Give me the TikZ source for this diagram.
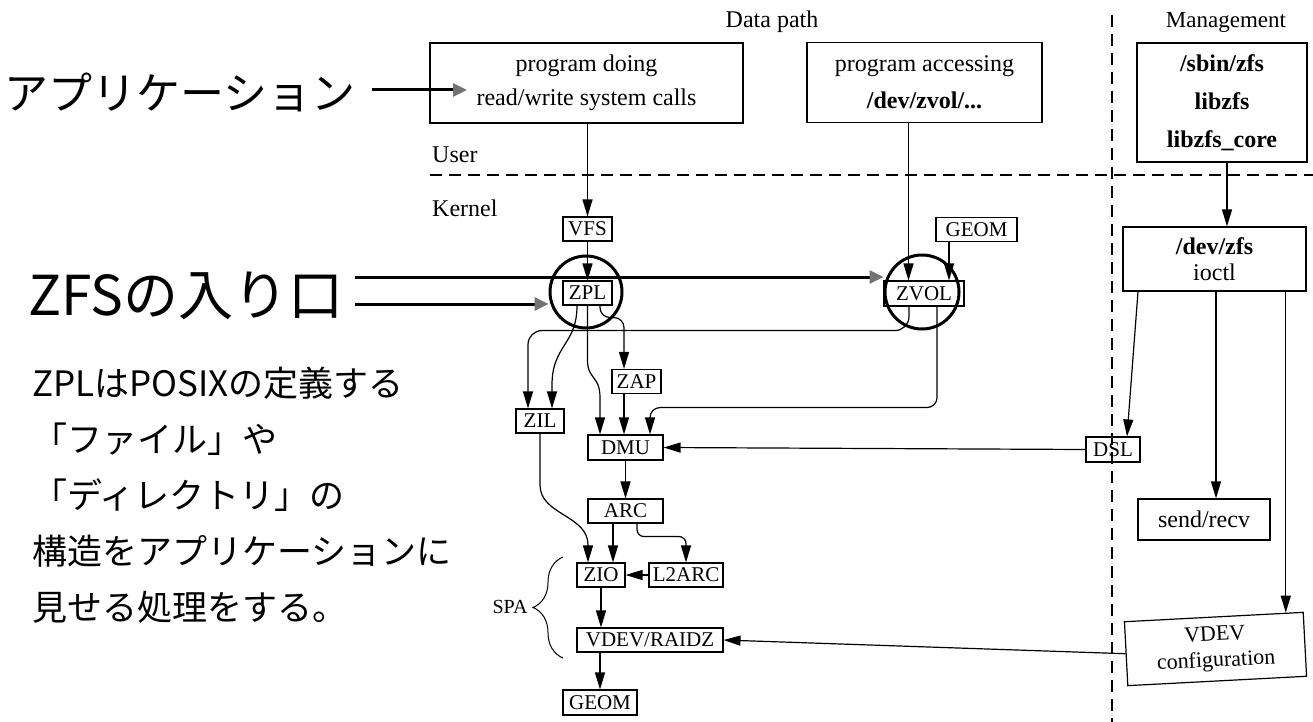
\documentclass[tikz,border=0pt]{standalone}
\usepackage{fontspec}
\setmainfont{Liberation Serif}
\newfontfamily\jp{Noto Sans CJK JP}
\usetikzlibrary{arrows.meta,calc,decorations.pathreplacing}
\begin{document}
\begin{tikzpicture}[x=1pt,y=-1pt,
  box/.style={draw,line width=1.2pt,inner sep=0pt,align=center,font=\fontsize{24}{34}\selectfont},
  sbox/.style={draw,line width=1.1pt,inner sep=0pt,minimum height=24pt,font=\fontsize{21}{21}\selectfont},
  arr/.style={line width=1.2pt,-{Triangle[length=17pt,width=10pt]}},
  annot/.style={line width=3pt,-{Triangle[length=14pt,width=13pt,color=black!55]}},
  ring/.style={draw,circle,line width=3pt,inner sep=0pt},
  lbl/.style={inner sep=0pt,font=\fontsize{24}{24}\selectfont},
  sep/.style={line width=1.1pt,dash pattern=on 12pt off 7pt},
]
\useasboundingbox (0,0) rectangle (1313,722);

% separators
\draw[sep] (430,175) -- (1313,175);
\draw[sep] (1112,15) -- (1112,722);

% labels
\node[lbl] (dp) at (772,22) {Data path};
\node[lbl,font=\fontsize{23}{23}\selectfont] (mg) at (1226,22) {Management};
\node[lbl,anchor=west] (user) at (432,155) {User};
\node[lbl,anchor=west] (kernel) at (432,208) {Kernel};

% user boxes
\node[box,minimum width=313pt,minimum height=80pt] (prog1) at (586.5,83) {program doing\\read/write system calls};
\node[box,minimum width=235pt,minimum height=80pt,font=\fontsize{24}{37}\selectfont] (prog2) at (924.5,82.5) {program accessing\\\textbf{/dev/zvol/...}};
\node[box,minimum width=170pt,minimum height=119pt,font=\fontsize{24}{38}\selectfont\bfseries] (mgmt) at (1222,102.5) {/sbin/zfs\\libzfs\\libzfs\_core};

% kernel boxes
\node[sbox,minimum width=49pt] (vfs) at (587.5,229) {VFS};
\node[sbox,minimum width=49pt] (zpl) at (587.5,293) {ZPL};
\node[sbox,minimum width=80pt,minimum height=25pt] (zvol) at (924,293.5) {ZVOL};
\node[sbox,minimum width=81pt] (geomA) at (976.5,229.5) {GEOM};
\node[sbox,minimum width=49pt] (zap) at (636.5,381.5) {ZAP};
\node[sbox,minimum width=48pt] (zil) at (540,421) {ZIL};
\node[sbox,minimum width=75pt,minimum height=25pt] (dmu) at (625.5,447.5) {DMU};
\node[sbox,minimum width=54pt,minimum height=25pt] (dsl) at (1113,449.5) {DSL};
\node[sbox,minimum width=75pt] (arc) at (625.5,511) {ARC};
\node[sbox,minimum width=48pt] (zio) at (601,575) {ZIO};
\node[sbox,minimum width=74pt] (l2arc) at (686,575) {L2ARC};
\node[sbox,minimum width=146pt] (vdev) at (650,640) {VDEV/RAIDZ};
\node[sbox,minimum width=74pt,minimum height=25pt] (geomB) at (600,702.5) {GEOM};

\node[box,minimum width=183pt,minimum height=64pt,font=\fontsize{24}{26}\selectfont] (devzfs) at (1214.5,259) {\textbf{/dev/zfs}\\ioctl};
\node[box,minimum width=132pt,minimum height=41pt] (sendrecv) at (1204,519.5) {send/recv};
\node[box,minimum width=179pt,minimum height=64pt,rotate=3,font=\fontsize{22}{26}\selectfont] (vdevcfg) at (1215.5,649) {VDEV\\configuration};

% SPA brace
\draw[line width=1pt,decorate,decoration={brace,amplitude=30pt,aspect=0.5}] (563,658) -- (563,557);
\node[lbl,font=\fontsize{20}{20}\selectfont] (spa) at (510,607) {SPA};

% connectors
\draw[arr] (prog1.south -| vfs.north) -- (vfs.north);
\draw[arr] (vfs.south) -- (zpl.north);
\draw[arr] ([xshift=-16pt]prog2.south) -- ([xshift=-16pt]prog2.south |- zvol.north);
\draw[arr] ([xshift=-27.5pt]geomA.south) -- ([xshift=-27.5pt]geomA.south |- zvol.north);
\draw[arr] ([xshift=5pt]mgmt.south) -- ([xshift=5pt]mgmt.south |- devzfs.north);
\draw[arr] ([xshift=-76.5pt]devzfs.south) -- ([xshift=14pt]dsl.north);
\draw[arr] ([xshift=1.5pt]devzfs.south) -- ([xshift=1.5pt]devzfs.south |- sendrecv.north);
\coordinate (cfgin) at ($(vdevcfg.north west)!0.9!(vdevcfg.north east)$);
\draw[arr] (devzfs.south -| cfgin) -- (cfgin);
\draw[arr] (dsl.west) -- (dmu.east);
\draw[arr] (vdevcfg.west) -- (vdev.east);

\draw[arr] ([xshift=-10.5pt]zpl.south) .. controls (577,345) and (552,345) .. (552,385) -- ([xshift=12pt]zil.north);
\draw[arr] (zpl.south) -- (587.5,360) .. controls (587.5,380) and (600,375) .. (600,398) -- ([xshift=-25.5pt]dmu.north);
\draw[arr,rounded corners=10pt] ([xshift=12.5pt]zpl.south) -- ++(0,12) -| ([xshift=-12.5pt]zap.north);
\draw[arr] ([xshift=-12.5pt]zap.south) -- ([xshift=-1.5pt]dmu.north);
\draw[arr,rounded corners=14pt] ([xshift=-15pt]zvol.south) -- ++(0,24) -| ([xshift=-12pt]zil.north);
\draw[arr,rounded corners=10pt] ([xshift=13pt]zvol.south) -- ++(0,101) -| ([xshift=24.5pt]dmu.north);
\draw[arr] (zil.south) -- (540,485) .. controls (540,515) and (588,515) .. (588,545) -- ([xshift=-13pt]zio.north);
\draw[arr] (dmu.south) -- (arc.north);
\draw[arr] ([xshift=-12.5pt]arc.south) -- ([xshift=12pt]zio.north);
\draw[arr,rounded corners=7pt] ([xshift=11.5pt]arc.south) -- ++(0,13) -| (l2arc.north);
\draw[arr] (l2arc.west) -- (zio.east);
\draw[arr] (zio.south) -- (zio.south |- vdev.north);
\draw[arr] (geomB.north |- vdev.south) -- (geomB.north);

% rings
\node[ring,minimum size=72pt] (cz) at (586,292) {};
\node[ring,minimum size=74pt] (cv) at (922,292) {};

% annotations
\node[anchor=west,inner sep=0pt,font=\jp\fontsize{44}{44}\selectfont] (app) at (4,92) {アプリケーション};
\coordinate (appA) at (372,90);
\coordinate (appB) at (467,90);
\draw[annot] (appA) -- (appB);

\node[anchor=west,inner sep=0pt,font=\jp\fontsize{55}{55}\selectfont] (zfs) at (28,296) {ZFSの入り口};
\coordinate (zfsA) at (355,277);
\coordinate (zfsB) at (355,304);
\draw[annot] (zfsA) -- (zfsA -| cv.west);
\draw[annot] (zfsB) -- (zfsB -| cz.west);

\node[anchor=west,inner sep=0pt,align=left,font=\jp\fontsize{35}{56}\selectfont] (desc) at (32,495) {ZPLはPOSIXの定義する\\「ファイル」や\\「ディレクトリ」の\\構造をアプリケーションに\\見せる処理をする。};
\end{tikzpicture}
\end{document}
